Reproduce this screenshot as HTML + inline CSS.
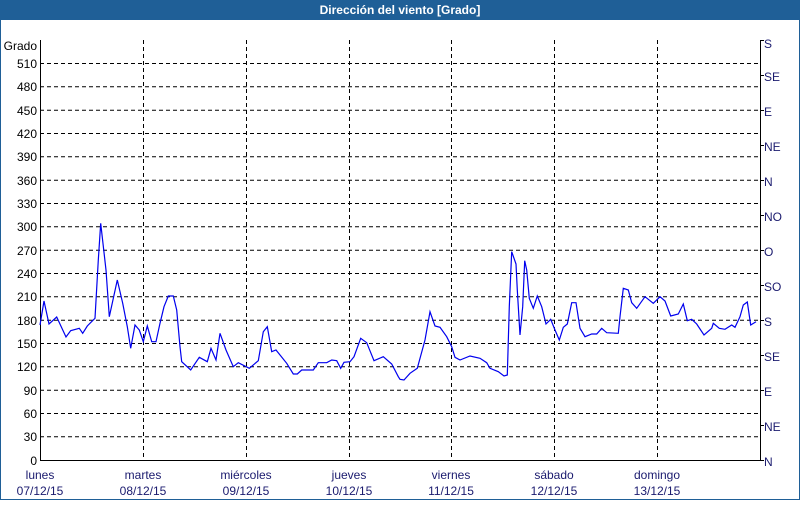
<!DOCTYPE html>
<html><head><meta charset="utf-8"><style>
body{margin:0;width:800px;height:500px;overflow:hidden;background:#fff;font-family:"Liberation Sans",sans-serif}
</style></head><body>
<svg width="800" height="500" xmlns="http://www.w3.org/2000/svg" font-family="Liberation Sans, sans-serif" font-size="12">
<rect x="0.5" y="0.5" width="799" height="499" fill="#fff" stroke="#1f5f97"/>
<rect x="0" y="0" width="800" height="20" fill="#1f5f97"/>
<text x="400" y="14" fill="#fff" font-weight="bold" text-anchor="middle">Dirección del viento [Grado]</text>
<g stroke="#000" stroke-dasharray="4,3" stroke-width="1">
<path d="M40 63.5H760M40 86.8H760M40 110.2H760M40 133.5H760M40 156.8H760M40 180.2H760M40 203.5H760M40 226.8H760M40 250.2H760M40 273.5H760M40 296.8H760M40 320.2H760M40 343.5H760M40 366.8H760M40 390.2H760M40 413.5H760M40 436.8H760"/>
<path d="M143.5 40V460M246.5 40V460M349.5 40V460M451.5 40V460M554.5 40V460M657.5 40V460"/>
</g>
<path d="M40.5 40V460.5H760.5V40" fill="none" stroke="#000"/>
<g stroke="#000"><path d="M760 40.5h4M760 75.5h4M760 110.5h4M760 145.5h4M760 180.5h4M760 215.5h4M760 250.5h4M760 285.5h4M760 320.5h4M760 355.5h4M760 390.5h4M760 425.5h4M760 460.5h4"/></g>
<g fill="#000" text-anchor="end">
<text x="37" y="50">Grado</text>
<text x="37" y="68">510</text><text x="37" y="91">480</text><text x="37" y="115">450</text><text x="37" y="138">420</text><text x="37" y="161">390</text><text x="37" y="185">360</text><text x="37" y="208">330</text><text x="37" y="231">300</text><text x="37" y="255">270</text><text x="37" y="278">240</text><text x="37" y="301">210</text><text x="37" y="325">180</text><text x="37" y="348">150</text><text x="37" y="371">120</text><text x="37" y="395">90</text><text x="37" y="418">60</text><text x="37" y="441">30</text><text x="37" y="465">0</text>
</g>
<g fill="#1a1a6e">
<text x="764" y="48">S</text><text x="764" y="81">SE</text><text x="764" y="116">E</text><text x="764" y="151">NE</text><text x="764" y="186">N</text><text x="764" y="221">NO</text><text x="764" y="256">O</text><text x="764" y="291">SO</text><text x="764" y="326">S</text><text x="764" y="361">SE</text><text x="764" y="396">E</text><text x="764" y="431">NE</text><text x="764" y="466">N</text>
</g>
<g fill="#1a1a6e" text-anchor="middle">
<text x="40" y="479">lunes</text><text x="40" y="495">07/12/15</text>
<text x="143" y="479">martes</text><text x="143" y="495">08/12/15</text>
<text x="246" y="479">miércoles</text><text x="246" y="495">09/12/15</text>
<text x="349" y="479">jueves</text><text x="349" y="495">10/12/15</text>
<text x="451" y="479">viernes</text><text x="451" y="495">11/12/15</text>
<text x="554" y="479">sábado</text><text x="554" y="495">12/12/15</text>
<text x="657" y="479">domingo</text><text x="657" y="495">13/12/15</text>
</g>
<polyline fill="none" stroke="#0000ee" stroke-width="1.2" points="40,325 44,301 49,324 56.7,317 66,337 70.7,330.7 79.3,328.3 82.7,333.3 87.3,326 95,318.3 98.3,260 100.7,223.3 106,270 109.3,316.7 117.3,280 122.7,303.3 127.3,326.7 130.7,348.3 135,325 139.3,330 143.3,341.7 147.3,326 151.7,341.7 156,341.7 160,323.3 164,306.7 168.3,296 173.3,296 176.7,310 180,346.7 181.7,361.7 190.7,370 199.3,357.3 207.3,361.7 211,348.3 216,360 220,333.3 226,350 233.3,366.7 238.3,362.7 249.3,368.3 258.3,360.7 263.3,331.7 267.3,326.7 271.7,351.7 276,350 286.7,363.3 293.3,374 297.3,374 301.7,370 313.3,370 318.3,362.7 326.7,362.7 331.7,360 336.7,360.7 340.7,368.3 344,362.3 350,361.7 354,356.7 360.7,338.3 366.7,342.7 374,360.7 383.3,356.7 391.7,364 398.3,376.7 400,379.3 404,380 410,373.3 417.3,368.3 425,340 430,311.7 435,326 440,327.3 446.7,336.7 451.7,346.7 455,357.3 460,360 470,356 480,358.3 486.7,362.7 490,368.3 498.3,371.7 504,376 507.3,375 509.3,306.7 511.7,251.7 516,264 517.3,290 520,335 522.7,306.7 524.7,260.7 526.7,270 529.3,298.3 533.3,308.3 537.3,296 541.7,306.7 546,324 550.7,319.3 555,330 559.3,340 563.3,327.3 567.3,324 571.7,302.7 576,302.7 580,328.3 585,336.7 591.7,334 596.7,334 601.7,328.3 606.7,332.7 618.3,333.3 620,316.7 623.3,288.3 628.3,290 631.7,302.7 636.7,308.3 645,296.7 653.3,303.3 660,296.7 665,301 670.7,316 678.3,314 683.3,304 687.3,320.7 691.7,319.3 696.7,324 704,335 711.7,328.3 713.3,323.3 719.3,328.3 725,329.3 731.7,325 735,327.3 740,316.7 743.3,305 747.3,302 750.7,325 756,321.7"/>
</svg>
</body></html>
